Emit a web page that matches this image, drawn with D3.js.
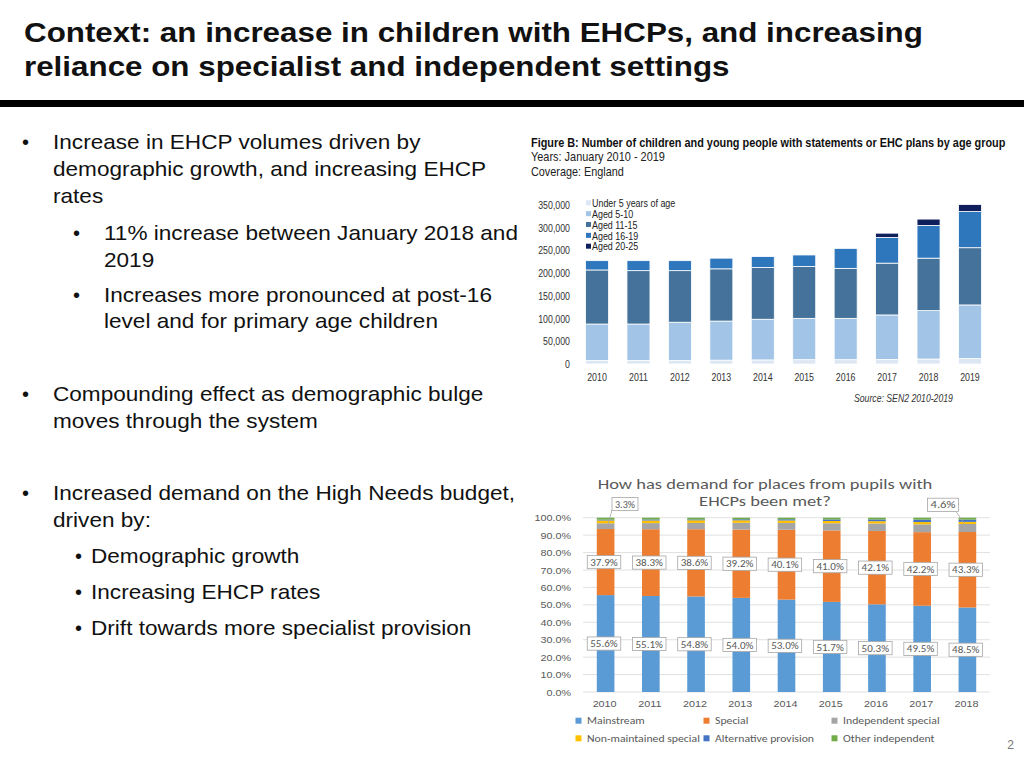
<!DOCTYPE html>
<html>
<head>
<meta charset="utf-8">
<script src="https://cdn.jsdelivr.net/npm/d3@7"></script>
<style>
  html, body { margin: 0; padding: 0; background: #fff; }
  svg { display: block; }
  .arial { font-family: 'Liberation Sans', Arial, Helvetica, sans-serif; }
  .calib { font-family: Carlito, Lato, 'Open Sans', sans-serif; }
</style>
</head>
<body>
<svg id="page" width="1024" height="768"></svg>
<script>
// ---- figure B: age groups (counts)
const yearsB = ['2010', '2011', '2012', '2013', '2014', '2015', '2016', '2017', '2018', '2019'];
const ageGroups = ['Under 5 years of age', 'Aged 5-10', 'Aged 11-15', 'Aged 16-19', 'Aged 20-25'];
const under5 = [8000, 8000, 8000, 8500, 9000, 9500, 9500, 10000, 11000, 12000];
const aged5to10 = [80000, 80000, 84000, 86000, 89500, 91000, 91000, 98000, 106500, 118000];
const aged11to15 = [119000, 117500, 113500, 115000, 114000, 114000, 110000, 114000, 115500, 126000];
const aged16to19 = [20500, 22000, 22000, 23500, 24000, 25500, 44000, 56500, 72000, 79500];
const aged20to25 = [0, 0, 0, 0, 0, 0, 0, 9500, 14000, 15500];
const ticksB = [0, 50000, 100000, 150000, 200000, 250000, 300000, 350000];

// ---- placements (percent)
const yearsP = ['2010', '2011', '2012', '2013', '2014', '2015', '2016', '2017', '2018'];
const placements = ['Mainstream', 'Special', 'Independent special', 'Non-maintained special', 'Alternative provision', 'Other independent'];
const mainstream = [55.6, 55.1, 54.8, 54.0, 53.0, 51.7, 50.3, 49.5, 48.5];
const special = [37.9, 38.3, 38.6, 39.2, 40.1, 41.0, 42.1, 42.2, 43.3];
const independentSpecial = [3.3, 3.5, 3.6, 3.9, 3.9, 4.1, 4.3, 4.5, 4.6];
const nonMaintained = [1.6, 1.5, 1.5, 1.4, 1.4, 1.3, 1.3, 1.3, 1.2];
const altProvision = [0.5, 0.6, 0.5, 0.6, 0.7, 0.9, 1.0, 1.4, 1.3];
const otherIndependent = [1.1, 1.0, 1.0, 0.9, 0.9, 1.0, 1.0, 1.1, 1.1];
const ticksP = [0, 10, 20, 30, 40, 50, 60, 70, 80, 90, 100];

const COLORS_B = ['#dde6f3', '#a2c4e6', '#44729a', '#2f77bd', '#0f1f5c'];
const COLORS_P = ['#5b9bd5', '#ed7d31', '#a5a5a5', '#ffc000', '#4472c4', '#70ad47'];

const svg = d3.select('#page');

// horizontal stretch of text about its own anchor point (the slide is wider than its fonts)
function stretch(sel, k) {
  sel.each(function () {
    const t = d3.select(this);
    const x = +t.attr('x') || 0;
    const y = +t.attr('y') || 0;
    t.attr('transform', 'translate(' + x + ',' + y + ') scale(' + k + ',1) translate(' + (-x) + ',' + (-y) + ')');
  });
}
// stretch so that text gets a given width
function fitTo(sel, w) {
  const k = w / sel.node().getComputedTextLength();
  stretch(sel, k);
  return k;
}

// ---- slide text
const title = svg.append('g').attr('class', 'arial');
['Context: an increase in children with EHCPs, and increasing',
 'reliance on specialist and independent settings'].forEach((s, i) => {
  title.append('text').attr('x', 24).attr('y', 42 + i * 34)
    .attr('font-size', 28).attr('font-weight', 'bold').attr('fill', '#111').text(s);
});
stretch(title.selectAll('text'), 1.12);

svg.append('rect').attr('x', 0).attr('y', 100).attr('width', 1024).attr('height', 7).attr('fill', '#000');

const bullets = [
  { b: 22, x: 53, y: 149, t: 'Increase in EHCP volumes driven by', dot: true },
  { b: 22, x: 53, y: 176, t: 'demographic growth, and increasing EHCP' },
  { b: 22, x: 53, y: 203, t: 'rates' },
  { b: 73, x: 104, y: 240, t: '11% increase between January 2018 and', dot: true },
  { b: 73, x: 104, y: 267, t: '2019' },
  { b: 73, x: 104, y: 302, t: 'Increases more pronounced at post-16', dot: true },
  { b: 73, x: 104, y: 328, t: 'level and for primary age children' },
  { b: 22, x: 53, y: 401, t: 'Compounding effect as demographic bulge', dot: true },
  { b: 22, x: 53, y: 428, t: 'moves through the system' },
  { b: 22, x: 53, y: 500, t: 'Increased demand on the High Needs budget,', dot: true },
  { b: 22, x: 53, y: 527, t: 'driven by:' },
  { b: 75, x: 91, y: 563, t: 'Demographic growth', dot: true },
  { b: 75, x: 91, y: 599, t: 'Increasing EHCP rates', dot: true },
  { b: 75, x: 91, y: 635, t: 'Drift towards more specialist provision', dot: true }
];
const bl = svg.append('g').attr('class', 'arial').attr('font-size', 20).attr('fill', '#111');
bullets.forEach(d => {
  if (d.dot) bl.append('text').attr('x', d.b).attr('y', d.y).text('•');
  bl.append('text').attr('class', 'line').attr('x', d.x).attr('y', d.y).text(d.t);
});
stretch(bl.selectAll('.line'), 1.13);

svg.append('text').attr('class', 'arial').attr('x', 1014).attr('y', 749)
  .attr('text-anchor', 'end').attr('font-size', 12).attr('fill', '#777').text('2');

// ---- Figure B
const gB = svg.append('g').attr('class', 'arial');
fitTo(gB.append('text').attr('x', 531).attr('y', 147).attr('font-size', 13.5).attr('font-weight', 'bold')
  .attr('fill', '#111').text('Figure B: Number of children and young people with statements or EHC plans by age group'), 475);
fitTo(gB.append('text').attr('x', 531).attr('y', 161).attr('font-size', 12.5).attr('fill', '#222')
  .text('Years: January 2010 - 2019'), 134);
fitTo(gB.append('text').attr('x', 531).attr('y', 176).attr('font-size', 12.5).attr('fill', '#222')
  .text('Coverage: England'), 93);

const xB = d3.scaleBand().domain(yearsB).range([576.3, 990.7]).paddingInner(0.445).paddingOuter(0.2225);
const yB = d3.scaleLinear().domain([0, 350000]).range([364, 205]);

const tableB = yearsB.map((y, i) => ({
  year: y, a0: under5[i], a1: aged5to10[i], a2: aged11to15[i], a3: aged16to19[i], a4: aged20to25[i]
}));
const stackB = d3.stack().keys(['a0', 'a1', 'a2', 'a3', 'a4'])(tableB);

gB.append('g').selectAll('g').data(stackB).enter().append('g')
  .attr('fill', (d, i) => COLORS_B[i])
  .selectAll('rect').data(d => d.filter(p => p[1] > p[0])).enter().append('rect')
  .attr('x', d => xB(d.data.year))
  .attr('width', xB.bandwidth())
  .attr('y', d => yB(d[1]))
  .attr('height', d => yB(d[0]) - yB(d[1]))
  .attr('stroke', '#fff').attr('stroke-width', 0.8);

const axisYB = d3.axisLeft(yB).tickValues(ticksB).tickSize(0).tickPadding(0).tickFormat(d3.format(','));
gB.append('g').attr('transform', 'translate(570,0)').call(axisYB)
  .call(g => g.select('.domain').remove())
  .selectAll('text').attr('font-family', null).attr('font-size', 11).attr('fill', '#333')
  .call(s => stretch(s, 0.8));

const axisXB = d3.axisBottom(xB).tickSize(0).tickPadding(0);
gB.append('g').attr('transform', 'translate(0,373)').call(axisXB)
  .call(g => g.select('.domain').remove())
  .selectAll('text').attr('font-family', null).attr('font-size', 11).attr('fill', '#333')
  .call(s => stretch(s, 0.8));

const legB = gB.append('g');
ageGroups.forEach((name, i) => {
  const y = 203.3 + i * 10.85;
  legB.append('rect').attr('x', 586).attr('y', y - 3).attr('width', 5).attr('height', 5).attr('fill', COLORS_B[i]);
  legB.append('text').attr('x', 592).attr('y', y + 3.8).attr('font-size', 10.5).attr('fill', '#222').text(name);
});
stretch(legB.selectAll('text'), 0.85);

fitTo(gB.append('text').attr('x', 854).attr('y', 402).attr('font-size', 11).attr('font-style', 'italic')
  .attr('fill', '#333').text('Source: SEN2 2010-2019'), 99);

// ---- placements chart
const gP = svg.append('g').attr('class', 'calib');
const t1 = gP.append('text').attr('x', 765).attr('y', 489).attr('text-anchor', 'middle').attr('font-size', 13.5)
  .attr('fill', '#595959').text('How has demand for places from pupils with');
const kTitle = fitTo(t1, 335);
stretch(gP.append('text').attr('x', 765).attr('y', 506).attr('text-anchor', 'middle').attr('font-size', 13.5)
  .attr('fill', '#595959').text('EHCPs been met?'), kTitle);

const xP = d3.scaleBand().domain(yearsP).range([583, 990]).paddingInner(0.61).paddingOuter(0.305);
const yP = d3.scaleLinear().domain([0, 100]).range([692, 517.7]);

gP.append('g').selectAll('line').data(ticksP).enter().append('line')
  .attr('x1', 583).attr('x2', 990)
  .attr('y1', d => yP(d)).attr('y2', d => yP(d))
  .attr('stroke', '#d9d9d9').attr('stroke-width', 0.8);

const axisYP = d3.axisLeft(yP).tickValues(ticksP).tickSize(0).tickPadding(0).tickFormat(d => d.toFixed(1) + '%');
gP.append('g').attr('transform', 'translate(571,0)').call(axisYP)
  .call(g => g.select('.domain').remove())
  .selectAll('text').attr('font-family', null).attr('font-size', 9.8).attr('fill', '#595959')
  .call(s => stretch(s, 1.1));

const axisXP = d3.axisBottom(xP).tickSize(0).tickPadding(0);
gP.append('g').attr('transform', 'translate(-1,700)').call(axisXP)
  .call(g => g.select('.domain').remove())
  .selectAll('text').attr('font-family', null).attr('font-size', 9.8).attr('fill', '#595959')
  .call(s => stretch(s, 1.1));

const tableP = yearsP.map((y, i) => ({
  year: y, p0: mainstream[i], p1: special[i], p2: independentSpecial[i],
  p3: nonMaintained[i], p4: altProvision[i], p5: otherIndependent[i]
}));
const stackP = d3.stack().keys(['p0', 'p1', 'p2', 'p3', 'p4', 'p5'])(tableP);

gP.append('g').selectAll('g').data(stackP).enter().append('g')
  .attr('fill', (d, i) => COLORS_P[i])
  .selectAll('rect').data(d => d).enter().append('rect')
  .attr('x', d => xP(d.data.year))
  .attr('width', xP.bandwidth())
  .attr('y', d => yP(d[1]))
  .attr('height', d => yP(d[0]) - yP(d[1]));

// data labels: white boxes with a grey border
function labelBox(g, cx, cy, txt, w) {
  g.append('rect').attr('x', cx - w / 2).attr('y', cy - 6.6).attr('width', w).attr('height', 13.2)
    .attr('fill', '#fff').attr('stroke', '#a6a6a6').attr('stroke-width', 0.8);
  const t = g.append('text').attr('x', cx).attr('y', cy + 3.6).attr('text-anchor', 'middle')
    .attr('font-size', 10).attr('fill', '#595959').text(txt);
  fitTo(t, w - 6);
}
const labG = gP.append('g');
stackP.slice(0, 2).forEach(series => {
  series.forEach(d => {
    labelBox(labG.append('g'), xP(d.data.year) + xP.bandwidth() / 2 - 1.6,
      yP((d[0] + d[1]) / 2), (d[1] - d[0]).toFixed(1) + '%', 33.5);
  });
});

// callouts for independent special at first and last year
const indep = stackP[2];
[[0, 625, 504, 612, 510], [yearsP.length - 1, 943, 504.8, 956, 511.5]].forEach(([i, bx, by, lx, ly]) => {
  const d = indep[i];
  const px = xP(d.data.year) + xP.bandwidth() / 2 + (i === 0 ? 2 : 0);
  const py = yP((d[0] + d[1]) / 2);
  const g = labG.append('g');
  g.append('line').attr('x1', lx).attr('y1', ly).attr('x2', px).attr('y2', py)
    .attr('stroke', '#a6a6a6').attr('stroke-width', 0.8);
  labelBox(g, bx, by, (d[1] - d[0]).toFixed(1) + '%', i === 0 ? 26 : 31);
});

// legend
const legP = gP.append('g');
placements.forEach((name, i) => {
  const x = 578.5 + (i % 3) * 128;
  const y = 720.7 + Math.floor(i / 3) * 17.6;
  legP.append('rect').attr('x', x - 3).attr('y', y - 3).attr('width', 6).attr('height', 6).attr('fill', COLORS_P[i]);
  legP.append('text').attr('x', x + 8.5).attr('y', y + 3.4).attr('font-size', 9.6).attr('fill', '#595959').text(name);
});
const nonMaint = legP.selectAll('text').filter(function () { return d3.select(this).text() === 'Non-maintained special'; });
const kL = 113 / nonMaint.node().getComputedTextLength();
stretch(legP.selectAll('text'), kL);
</script>
</body>
</html>
